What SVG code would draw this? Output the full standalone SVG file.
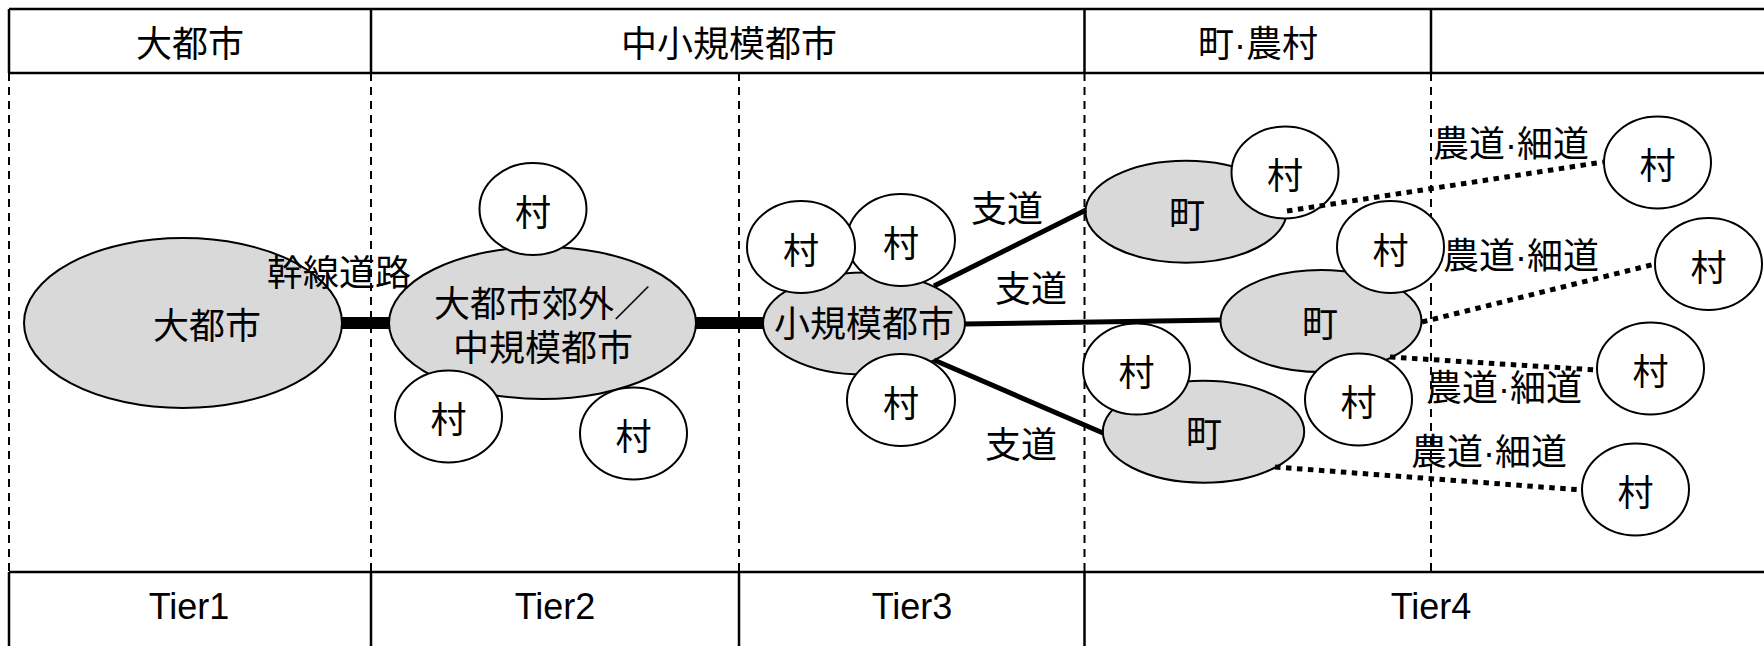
<svg xmlns="http://www.w3.org/2000/svg" width="1764" height="646" viewBox="0 0 1764 646">
<style>
  text { font-family: "Liberation Sans", "Noto Sans CJK JP", sans-serif; font-size: 36px; fill: #000; text-anchor: middle; }
  .city { fill: #d9d9d9; stroke: #000; stroke-width: 2; }
  .vil { fill: #fff; stroke: #000; stroke-width: 2; }
  .grid { stroke: #000; stroke-width: 2.5; fill: none; }
  .dash { stroke: #000; stroke-width: 2; stroke-dasharray: 8 6; fill: none; }
  .trunk { stroke: #000; stroke-width: 12; fill: none; }
  .branch { stroke: #000; stroke-width: 5; fill: none; }
  .farm { stroke: #000; stroke-width: 5; stroke-dasharray: 5.5 5.5; fill: none; }
</style>
<rect width="1764" height="646" fill="#fff"/>

<g id="table">
  <line class="grid" x1="9" y1="9" x2="1764" y2="9"/>
  <line class="grid" x1="9" y1="73" x2="1764" y2="73"/>
  <line class="grid" x1="9" y1="572" x2="1764" y2="572"/>
  <line class="grid" x1="9" y1="9" x2="9" y2="73"/>
  <line class="grid" x1="371" y1="9" x2="371" y2="73"/>
  <line class="grid" x1="1084.5" y1="9" x2="1084.5" y2="73"/>
  <line class="grid" x1="1431" y1="9" x2="1431" y2="73"/>
  <line class="grid" x1="9" y1="572" x2="9" y2="646"/>
  <line class="grid" x1="371" y1="572" x2="371" y2="646"/>
  <line class="grid" x1="739" y1="572" x2="739" y2="646"/>
  <line class="grid" x1="1084.5" y1="572" x2="1084.5" y2="646"/>
  <line class="dash" x1="9" y1="73" x2="9" y2="572"/>
  <line class="dash" x1="371" y1="73" x2="371" y2="572"/>
  <line class="dash" x1="739" y1="73" x2="739" y2="572"/>
  <line class="dash" x1="1084.5" y1="73" x2="1084.5" y2="572"/>
  <line class="dash" x1="1431" y1="73" x2="1431" y2="572"/>
  <text x="190" y="57">大都市</text>
  <text x="729" y="57">中小規模都市</text>
  <text x="1258" y="57">町·農村</text>
  <text x="189" y="619">Tier1</text>
  <text x="555" y="619">Tier2</text>
  <text x="912" y="619">Tier3</text>
  <text x="1431" y="619">Tier4</text>
</g>

<g id="tier1-city">
  <ellipse class="city" cx="183" cy="323" rx="159" ry="85"/>
  <text x="207" y="339">大都市</text>
</g>

<g id="tier2-city">
  <ellipse class="city" cx="542.5" cy="323" rx="153.5" ry="76"/>
  <text x="542" y="317">大都市郊外／</text>
  <text x="543" y="361">中規模都市</text>
</g>
<g id="tier2-village-top"><ellipse class="vil" cx="533" cy="209" rx="53.5" ry="46"/><text x="533" y="226">村</text></g>
<g id="tier2-village-left"><ellipse class="vil" cx="448.5" cy="416.5" rx="53.5" ry="46"/><text x="448.5" y="433">村</text></g>
<g id="tier2-village-right"><ellipse class="vil" cx="633.5" cy="433.5" rx="53.5" ry="46"/><text x="633.5" y="450">村</text></g>

<g id="tier3-city">
  <ellipse class="city" cx="864" cy="323.5" rx="101" ry="51"/>
  <text x="864" y="337">小規模都市</text>
</g>
<g id="tier3-village-right"><ellipse class="vil" cx="901" cy="240" rx="54" ry="46"/><text x="901" y="257">村</text></g>
<g id="tier3-village-left"><ellipse class="vil" cx="801" cy="247" rx="54" ry="46"/><text x="801" y="264">村</text></g>
<g id="tier3-village-bottom"><ellipse class="vil" cx="901" cy="400" rx="54" ry="46"/><text x="901" y="417">村</text></g>

<g id="town-top">
  <ellipse class="city" cx="1186" cy="211.7" rx="100.5" ry="51"/>
  <text x="1187" y="228">町</text>
</g>
<g id="town-top-village"><ellipse class="vil" cx="1285" cy="172.5" rx="53.5" ry="46"/><text x="1285" y="189">村</text></g>

<g id="town-middle">
  <ellipse class="city" cx="1321" cy="321" rx="100.5" ry="51"/>
  <text x="1320" y="337">町</text>
</g>
<g id="town-middle-village-top"><ellipse class="vil" cx="1390.5" cy="247" rx="53.5" ry="46"/><text x="1390.5" y="264">村</text></g>
<g id="town-middle-village-bottom"><ellipse class="vil" cx="1358.5" cy="399.5" rx="53.5" ry="46"/><text x="1358.5" y="416">村</text></g>

<g id="town-bottom">
  <ellipse class="city" cx="1203.5" cy="431.7" rx="100.7" ry="51"/>
  <text x="1204" y="447">町</text>
</g>
<g id="town-bottom-village"><ellipse class="vil" cx="1136.5" cy="369" rx="53.5" ry="45.5"/><text x="1136.5" y="386">村</text></g>

<g id="far-village-1"><ellipse class="vil" cx="1657.5" cy="162.5" rx="53.5" ry="46"/><text x="1657.5" y="179">村</text></g>
<g id="far-village-2"><ellipse class="vil" cx="1708.5" cy="264" rx="53.5" ry="46"/><text x="1708.5" y="281">村</text></g>
<g id="far-village-3"><ellipse class="vil" cx="1650.5" cy="368.5" rx="53.5" ry="46"/><text x="1650.5" y="385">村</text></g>
<g id="far-village-4"><ellipse class="vil" cx="1635.5" cy="489.5" rx="53.5" ry="46"/><text x="1635.5" y="506">村</text></g>

<g id="connectors">
  <line class="trunk" x1="341" y1="323" x2="390" y2="323"/>
  <line class="trunk" x1="695" y1="323" x2="764" y2="323"/>
  <line class="branch" x1="934" y1="286" x2="1086" y2="210"/>
  <line class="branch" x1="964" y1="324" x2="1221" y2="320"/>
  <line class="branch" x1="934" y1="360" x2="1103" y2="433"/>
  <line class="farm" x1="1287" y1="211" x2="1603" y2="162"/>
  <line class="farm" x1="1422" y1="322" x2="1655" y2="264"/>
  <line class="farm" x1="1390" y1="357" x2="1597" y2="370"/>
  <line class="farm" x1="1275" y1="467" x2="1582" y2="490"/>
  <text x="339" y="286">幹線道路</text>
  <text x="1007" y="222">支道</text>
  <text x="1031" y="302">支道</text>
  <text x="1021" y="458">支道</text>
  <text x="1511" y="157">農道·細道</text>
  <text x="1521" y="269">農道·細道</text>
  <text x="1504" y="401">農道·細道</text>
  <text x="1489" y="465">農道·細道</text>
</g>
</svg>
